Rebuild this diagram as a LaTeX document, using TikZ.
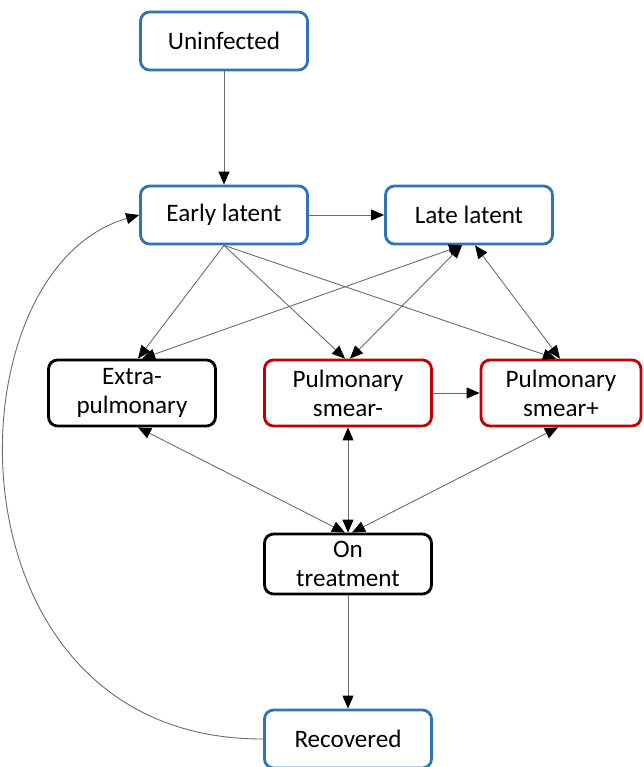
\documentclass[tikz,border=0pt]{standalone}
\usepackage{fontspec}
\setmainfont{Carlito}
\usepackage{tikz}
\usetikzlibrary{arrows,arrows.meta,positioning,calc}
\usepackage{xcolor}
\definecolor{tbblue}{RGB}{46,117,182}
\definecolor{tbred}{RGB}{192,0,0}
\definecolor{tbgray}{RGB}{105,105,105}
\tikzstyle{state} = [rectangle, rounded corners=0.18cm, minimum width=3.34cm, minimum height=1.16cm, inner sep=0pt, align=center, draw, line width=1.6pt, fill=white, font=\fontsize{14.3}{16.5}\selectfont]
\tikzstyle{arrow} = [line width=0.5pt, color=tbgray, >={Triangle[length=0.26cm,width=0.22cm,color=black]}]

\begin{document}
\begin{tikzpicture}[x=0.02cm, y=-0.02cm]
\useasboundingbox (0,0) rectangle (643,767);
% latent states
\node[state, draw=tbblue] (uninf) at (224,41) {Uninfected};
\node[state, draw=tbblue] (early) at (224,215) {Early latent};
\node[state, draw=tbblue] (late) at (469,215) {Late latent};

% active disease
\node[state, minimum height=1.32cm] (extra) at (132,393) {Extra-\\pulmonary};
\node[state, draw=tbred, minimum height=1.32cm] (sneg) at (348,393) {Pulmonary\\smear-};
\node[state, draw=tbred, minimum height=1.32cm, minimum width=3.2cm] (spos) at (561,393) {Pulmonary\\smear+};

% treatment
\node[state, minimum height=1.2cm] (treat) at (348,564) {On\\treatment};
\node[state, draw=tbblue] (recov) at (348,739) {Recovered};

% transitions
\draw[arrow,->] (uninf) -- (early);
\draw[arrow,->] (early) -- (late);
\draw[arrow,->] (early.south) -- ($(extra.north)+(6,0)$);
\draw[arrow,->] (early.south) -- ($(sneg.north)+(-3,0)$);
\draw[arrow,->] (early.south) -- ($(spos.north)+(-5,0)$);
\draw[arrow,<->] ($(late.south)+(-7,0)$) -- ($(extra.north)+(10,0)$);
\draw[arrow,<->] ($(late.south)+(-7,0)$) -- ($(sneg.north)+(2,0)$);
\draw[arrow,<->] ($(late.south)+(6,0)$) -- ($(spos.north)+(-1,0)$);
\draw[arrow,->] (sneg) -- (spos);
\draw[arrow,<->] ($(extra.south)+(6,0)$) -- ($(treat.north)+(-3,0)$);
\draw[arrow,<->] (sneg.south) -- (treat.north);
\draw[arrow,<->] ($(spos.south)+(-3,0)$) -- ($(treat.north)+(4,0)$);
\draw[arrow,->] (treat) -- (recov);
\draw[arrow,->] (recov.west) .. controls (-60,740) and (-55,270) .. (early.west);
\end{tikzpicture}
\end{document}
